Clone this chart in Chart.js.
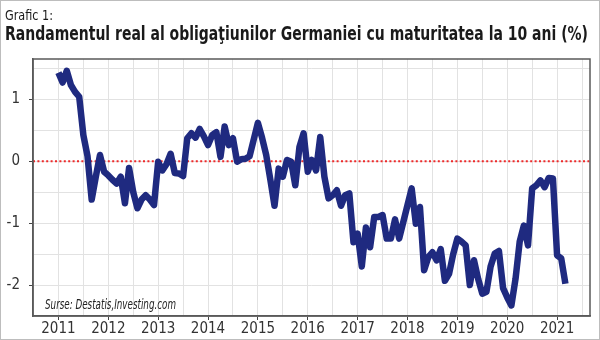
<!DOCTYPE html>
<html>
<head>
<meta charset="utf-8">
<script src="https://cdn.jsdelivr.net/npm/chart.js@4/dist/chart.umd.min.js"></script>
<style>
  html, body { margin: 0; padding: 0; background: #fff; }
  #frame { width: 600px; height: 340px; box-sizing: border-box; border: 1px solid #bdbdbd; background: #fff; }
  #box { position: relative; width: 598px; height: 338px; }
</style>
</head>
<body>
<div id="frame"><div id="box"><canvas id="chart"></canvas></div></div>
<script>
// monthly values, Jan 2011 .. Mar 2021
const firstYear = 2011;
const yieldValues = [
  1.43, 1.27, 1.46, 1.23, 1.12, 1.04, 0.42, 0.08, -0.62, -0.25, 0.10, -0.17,
  -0.23, -0.30, -0.36, -0.25, -0.68, -0.11, -0.50, -0.76, -0.62, -0.55, -0.62, -0.71,
  -0.01, -0.15, -0.05, 0.12, -0.19, -0.20, -0.24, 0.37, 0.45, 0.38, 0.52, 0.40,
  0.26, 0.42, 0.47, 0.07, 0.56, 0.26, 0.37, -0.01, 0.03, 0.04, 0.08, 0.35,
  0.62, 0.38, 0.10, -0.30, -0.72, -0.12, -0.25, 0.02, -0.01, -0.39, 0.23, 0.45,
  -0.17, 0.02, -0.15, 0.39, -0.25, -0.60, -0.55, -0.47, -0.72, -0.55, -0.52, -1.31,
  -1.17, -1.70, -1.07, -1.39, -0.90, -0.90, -0.87, -1.25, -1.25, -0.94, -1.25, -0.98,
  -0.71, -0.44, -1.01, -0.74, -1.76, -1.55, -1.47, -1.60, -1.42, -1.93, -1.82, -1.50,
  -1.25, -1.30, -1.36, -2.00, -1.60, -1.90, -2.14, -2.11, -1.70, -1.49, -1.45, -2.05,
  -2.20, -2.33, -1.90, -1.30, -1.04, -1.36, -0.44, -0.39, -0.31, -0.42, -0.27, -0.28,
  -1.52, -1.57, -1.98
];
const yearTicks = [2011, 2012, 2013, 2014, 2015, 2016, 2017, 2018, 2019, 2020, 2021];
const valueTicks = [-2, -1, 0, 1];

const titleSmall = 'Grafic 1:';
const titleText = 'Randamentul real al obligaţiunilor Germaniei cu maturitatea la 10 ani (%)';
const sourceText = 'Surse: Destatis,Investing.com';

const narrow = "'Liberation Sans Narrow', 'DejaVu Sans Condensed', sans-serif";

const points = yieldValues.map((v, i) => ({ x: firstYear + i / 12, y: v }));
const xMin = 2010.49, xMax = 2021.66;

const isWhole = v => Math.abs(v - Math.round(v)) < 1e-6;
function halfSteps(from, to) {
  const out = [];
  for (let v = from; v <= to + 1e-9; v += 0.5) out.push({ value: v });
  return out;
}

function fitText(c, text, x, y, width) {
  const w = c.measureText(text).width;
  c.save();
  c.translate(x, y);
  c.scale(width / w, 1);
  c.fillText(text, 0, 0);
  c.restore();
}

const decor = {
  id: 'decor',
  afterDraw(chart) {
    const c = chart.ctx;
    const a = chart.chartArea;
    c.save();
    c.strokeStyle = '#5a5a5a';
    c.lineWidth = 1.5;
    c.strokeRect(a.left, a.top, a.right - a.left, a.bottom - a.top);
    c.textBaseline = 'alphabetic';
    c.fillStyle = '#1a1a1a';
    c.font = '14px ' + narrow;
    fitText(c, titleSmall, 4, 18.5, 48);
    c.font = 'bold 19px ' + narrow;
    fitText(c, titleText, 4, 38.5, 583);
    c.fillStyle = '#222';
    c.font = 'italic 14px ' + narrow;
    fitText(c, sourceText, 44, 307.5, 131);
    c.restore();
  }
};

const ctx = document.getElementById('chart').getContext('2d');
new Chart(ctx, {
  type: 'line',
  data: {
    datasets: [{
      data: points,
      borderColor: '#1f2a80',
      borderWidth: 6.5,
      borderJoinStyle: 'round',
      pointRadius: 0,
      tension: 0,
      fill: false
    }, {
      data: [{ x: xMin, y: 0 }, { x: xMax, y: 0 }],
      borderColor: '#ee2a2a',
      borderWidth: 2,
      borderDash: [2, 2.4],
      pointRadius: 0,
      fill: false
    }]
  },
  options: {
    responsive: true,
    maintainAspectRatio: false,
    animation: false,
    layout: { padding: { top: 58, right: 9, left: 0, bottom: 0 } },
    plugins: { legend: { display: false }, tooltip: { enabled: false } },
    scales: {
      x: {
        type: 'linear',
        min: xMin,
        max: xMax,
        afterBuildTicks: s => { s.ticks = halfSteps(2010.5, 2021.5); },
        afterFit: s => { s.height = 23; },
        grid: {
          color: '#e2e2e2',
          lineWidth: 1,
          tickLength: 4,
          tickColor: c => (isWhole(c.tick.value) ? '#444' : 'rgba(0,0,0,0)')
        },
        border: { display: true, color: '#5a5a5a', width: 1.5 },
        ticks: {
          autoSkip: false,
          maxRotation: 0,
          padding: 0,
          color: '#333',
          font: { family: narrow, size: 15 },
          callback: v => (yearTicks.some(y => Math.abs(y - v) < 1e-6) ? String(Math.round(v)) : '')
        }
      },
      y: {
        min: -2.5,
        max: 1.65,
        afterBuildTicks: s => { s.ticks = halfSteps(-2.5, 1.5); },
        afterFit: s => { s.width = 32; },
        grid: {
          color: '#e2e2e2',
          lineWidth: 1,
          tickLength: 4,
          tickColor: c => (isWhole(c.tick.value) && c.tick.value > -2.5 ? '#444' : 'rgba(0,0,0,0)')
        },
        border: { display: true, color: '#5a5a5a', width: 1.5 },
        ticks: {
          autoSkip: false,
          padding: 9,
          color: '#333',
          font: { family: narrow, size: 15 },
          callback: v => (valueTicks.some(t => Math.abs(t - v) < 1e-6) ? String(Math.round(v)) : '')
        }
      }
    }
  },
  plugins: [decor]
});
</script>
</body>
</html>
